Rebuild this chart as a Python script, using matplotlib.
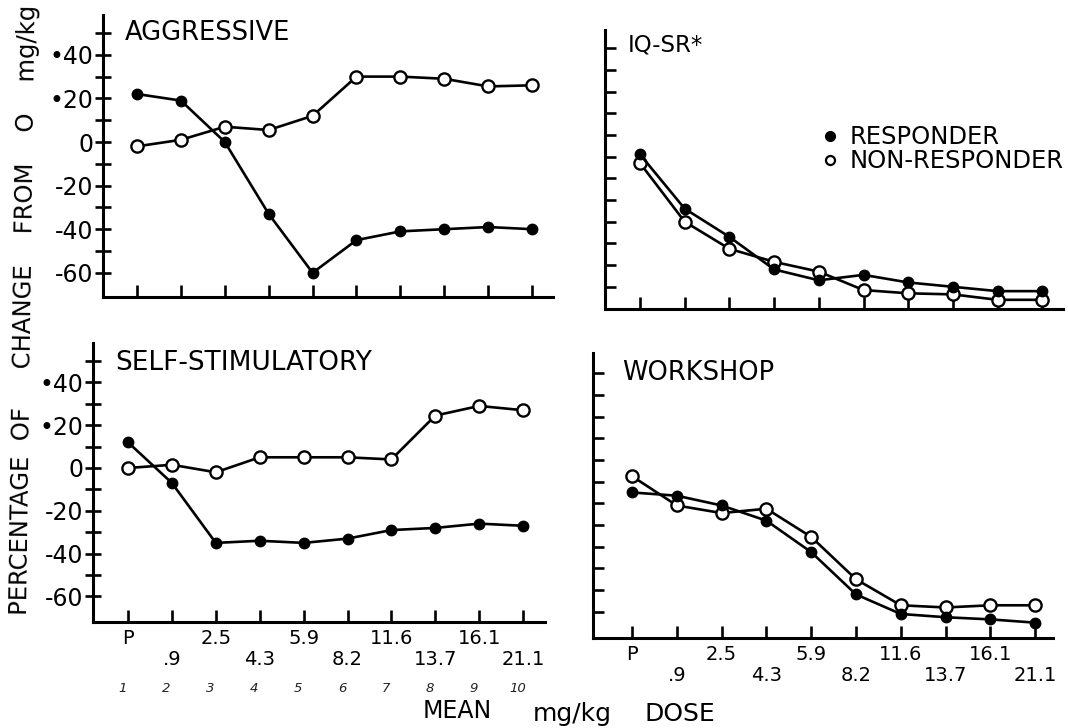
import matplotlib
matplotlib.use("Agg")
import matplotlib.pyplot as plt
from matplotlib.lines import Line2D
from matplotlib.transforms import blended_transform_factory

# ---------------- data ----------------
dose_upper = ["P", "", "2.5", "", "5.9", "", "11.6", "", "16.1", ""]
dose_lower = ["", ".9", "", "4.3", "", "8.2", "", "13.7", "", "21.1"]
steps = ["1", "2", "3", "4", "5", "6", "7", "8", "9", "10"]

aggr_resp = [22, 19, 0, -33, -60, -45, -41, -40, -39, -40]
aggr_non = [-2, 1, 7, 5.5, 12, 30, 30, 29, 25.5, 26]
iq_resp = [1, -24, -37, -52, -57, -54.5, -58, -60, -62, -62]
iq_non = [-3, -30, -42.5, -48.5, -53, -61.5, -63, -63.5, -66, -66]
self_resp = [12, -7, -35, -34, -35, -33, -29, -28, -26, -27]
self_non = [0, 1.5, -2, 5, 5, 5, 4, 24.5, 29, 27]
work_resp = [-5, -6.5, -11, -18, -32.5, -52, -61, -62.5, -63.5, -65]
work_non = [2.5, -11, -14.5, -12.5, -25.5, -45, -57, -58, -57, -57]

ytick_vals = [50, 40, 30, 20, 10, 0, -10, -20, -30, -40, -50, -60]
ytick_text = {40: "•40", 20: "•20", 0: "0", -20: "-20", -40: "-40", -60: "-60"}

# ---------------- layout ----------------
W, H = 1068, 728
fig = plt.figure(figsize=(W / 100, H / 100), dpi=100)
fig.patch.set_facecolor("white")
plt.rcParams["font.family"] = ["DejaVu Sans"]


def px(xp, yp):
    return xp / W, 1 - yp / H


def make_axes(l, r, t, b, x0, dx, y0, ppu):
    ax = fig.add_axes([l / W, 1 - b / H, (r - l) / W, (b - t) / H])
    ax.set_xlim((l - x0) / dx, (r - x0) / dx)
    ax.set_ylim((y0 - b) / ppu, (y0 - t) / ppu)
    for s in ("top", "right"):
        ax.spines[s].set_visible(False)
    for s in ("left", "bottom"):
        ax.spines[s].set_linewidth(2.2)
    ax.set_facecolor("none")
    return ax


panels = [
    # geometry: l, r, t, b, x0, dx, y0, ppu (pixels)
    dict(geom=(103, 553, 15, 297, 137, 43.9, 142, 2.18), title="AGGRESSIVE",
         tpos=(125, 33), tfs=18.5, resp=aggr_resp, non=aggr_non, ylab=True, xlab=False),
    dict(geom=(605, 1063, 30, 309, 640, 44.7, 156.6, 2.17), title="IQ-SR*",
         tpos=(628, 45), tfs=16.5, resp=iq_resp, non=iq_non, ylab=False, xlab=False),
    dict(geom=(93, 545, 343, 622, 128, 43.9, 468, 2.14), title="SELF-STIMULATORY",
         tpos=(115, 363), tfs=19, resp=self_resp, non=self_non, ylab=True, xlab=True),
    dict(geom=(593, 1053, 353, 638, 632, 44.8, 481.6, 2.17), title="WORKSHOP",
         tpos=(622, 373), tfs=18.5, resp=work_resp, non=work_non, ylab=False, xlab=True),
]

axes = []
for p in panels:
    ax = make_axes(*p["geom"])
    axes.append(ax)
    x = list(range(len(p["resp"])))
    ax.plot(x, p["non"], color="black", lw=1.9, marker="o", ms=8.8,
            mfc="white", mec="black", mew=1.7, zorder=3)
    ax.plot(x, p["resp"], color="black", lw=1.9, marker="o", ms=7.5,
            mfc="black", mec="black", zorder=4)
    ax.set_yticks(ytick_vals)
    if p["ylab"]:
        ax.set_yticklabels([ytick_text.get(v, "") for v in ytick_vals], fontsize=17)
        ax.tick_params(axis="y", direction="inout", length=12, width=1.9, pad=1)
    else:
        ax.set_yticklabels([])
        ax.tick_params(axis="y", direction="in", length=8, width=1.9)
    ax.set_xticks(x)
    if p["xlab"]:
        labels = [u if u else "\n" + lo for u, lo in zip(dose_upper, dose_lower)]
        ax.set_xticklabels(labels, fontsize=14, linespacing=1.12)
    else:
        ax.set_xticklabels([])
    ax.tick_params(axis="x", direction="in", length=9, width=1.9, pad=5)
    fig.text(*px(*p["tpos"]), p["title"], fontsize=p["tfs"], va="center", ha="left")

# legend in IQ-SR panel
handles = [
    Line2D([], [], ls="none", marker="o", ms=7, mfc="black", mec="black"),
    Line2D([], [], ls="none", marker="o", ms=6.5, mfc="white", mec="black", mew=1.6),
]
axes[1].legend(handles, ["RESPONDER", "NON-RESPONDER"], loc="upper left",
               bbox_to_anchor=px(811, 113), bbox_transform=fig.transFigure,
               frameon=False, fontsize=17.5, handlelength=0.6, handletextpad=0.5,
               labelspacing=0.0, borderpad=0)

# handwritten step numbers under the bottom-left panel
bt = blended_transform_factory(axes[2].transData, fig.transFigure)
for i, s in enumerate(steps):
    fig.text(i - 0.12, 1 - 688 / H, s, transform=bt, fontsize=9.5, style="italic",
             ha="center", va="center", color="#222222")

# axis captions
fig.text(*px(457, 711), "MEAN", fontsize=17, ha="center", va="center")
fig.text(*px(572, 714), "mg/kg", fontsize=18, ha="center", va="center")
fig.text(*px(680, 714), "DOSE", fontsize=18, ha="center", va="center")
fig.text(*px(24, 310), "PERCENTAGE  OF     CHANGE    FROM    O    mg/kg",
         rotation=89.2, fontsize=17.5, ha="center", va="center",
         rotation_mode="anchor")

fig.savefig("out.png", dpi=100, facecolor="white")
